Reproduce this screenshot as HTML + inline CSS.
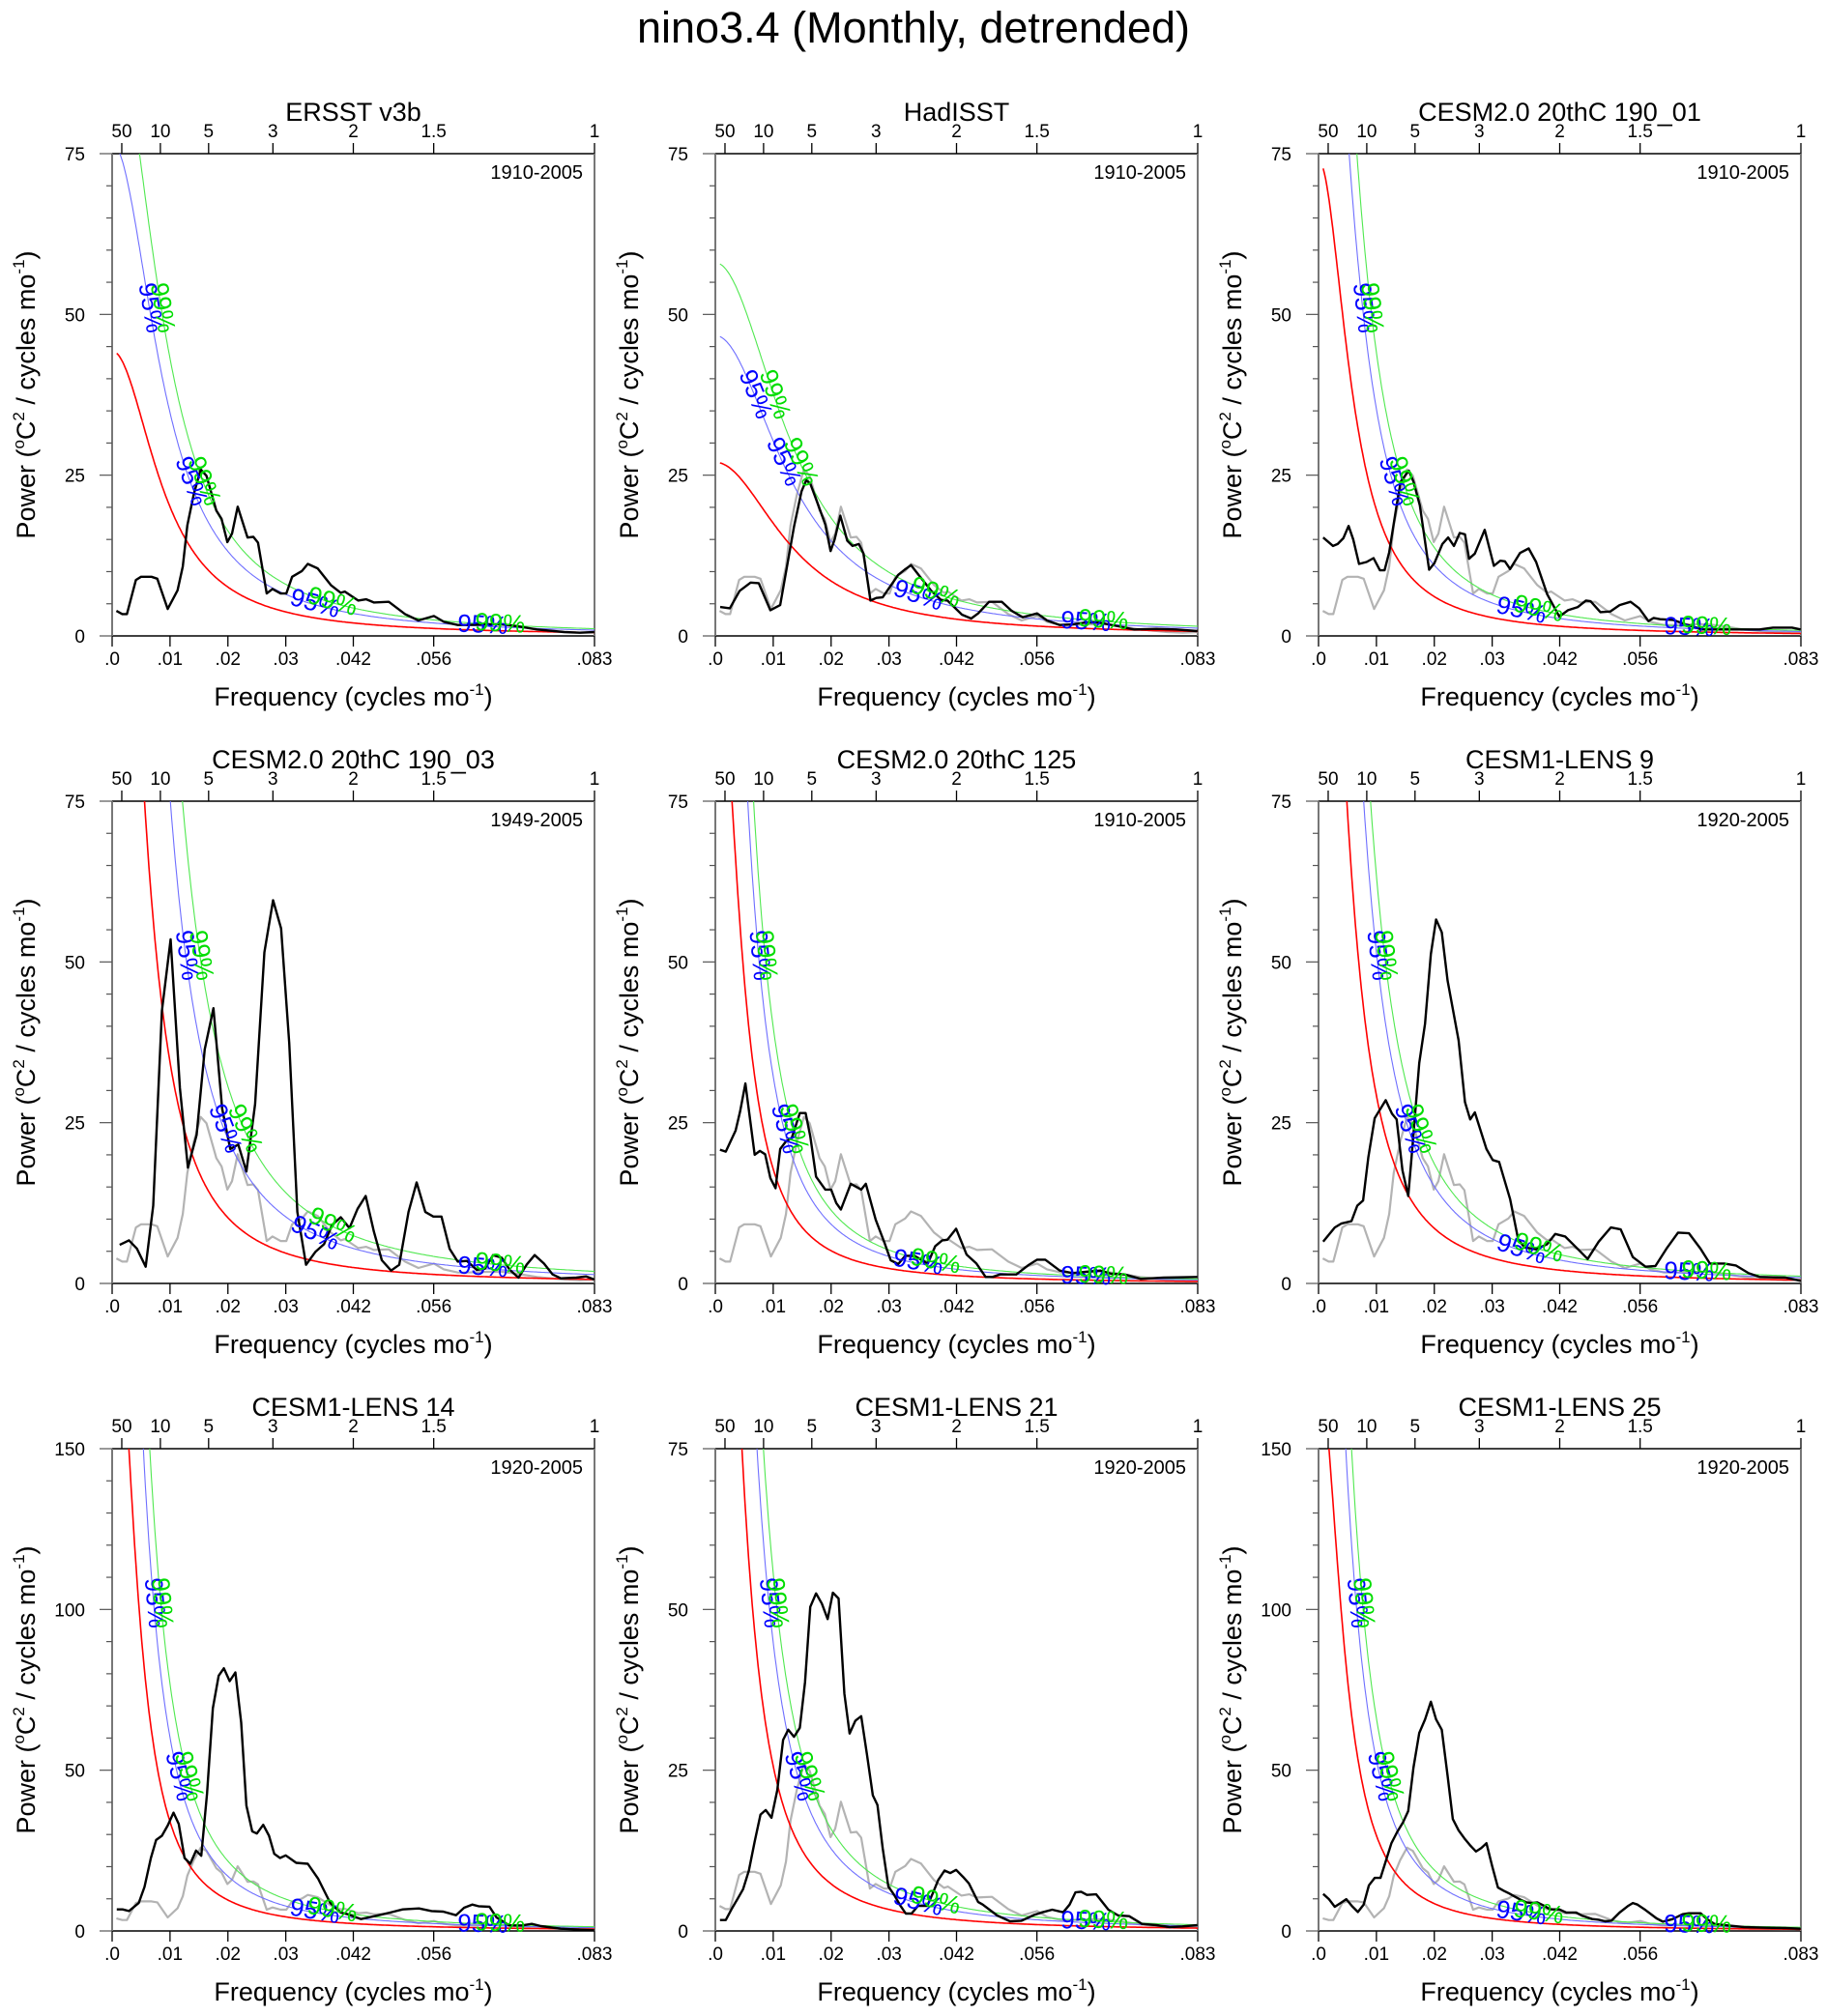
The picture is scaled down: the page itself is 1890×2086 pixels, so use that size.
<!DOCTYPE html>
<html><head><meta charset="utf-8"><title>nino3.4 spectra</title>
<style>
html,body{margin:0;padding:0;background:#fff;}
svg{display:block;font-family:"Liberation Sans",Arial,sans-serif;}
</style></head>
<body>
<svg id="chart" xmlns="http://www.w3.org/2000/svg" width="1890" height="2086" viewBox="0 0 1890 2086">
<rect x="0" y="0" width="1890" height="2086" fill="#fff"/>
<text x="945" y="44" font-size="45" text-anchor="middle" fill="#000">nino3.4 (Monthly, detrended)</text>
</svg>
<script>
// ---------- data ----------
const panelTitles = ["ERSST v3b","HadISST","CESM2.0 20thC 190_01","CESM2.0 20thC 190_03","CESM2.0 20thC 125","CESM1-LENS 9","CESM1-LENS 14","CESM1-LENS 21","CESM1-LENS 25"];
const panelYears = ["1910-2005","1910-2005","1910-2005","1949-2005","1910-2005","1920-2005","1920-2005","1920-2005","1920-2005"];
const yMax = [75,75,75,75,75,75,150,75,150];
const redPeak = [44.3,27,74,162.6,106,148,218.6,155,173.6];
const redFc = [0.0091,0.0136,0.006,0.00518,0.00449,0.00496,0.00429,0.00445,0.00454];
const ci95Ratio = [1.73,1.73,1.8,2.2,1.81,1.76,1.77,1.75,1.79];
const ci99Ratio = [2.15,2.15,2.25,3.0,2.24,2.17,2.26,2.17,2.23];
const topPeriods = [50,10,5,3,2,1.5,1];
const topPeriodLabels = ["50","10","5","3","2","1.5","1"];
const bottomTickFreqs = [0,0.01,0.02,0.03,1/24,1/18,1/12];
const bottomTickLabels = [".0",".01",".02",".03",".042",".056",".083"];

const obsFreq = [.00074,.00175,.00255,.0041,.005,.0068,.0078,.0096,.0113,.0122,.013,.0141,.0153,.0163,.018,.0189,.0199,.0207,.0217,.0234,.0244,.0252,.0267,.0277,.0291,.0301,.0311,.0328,.0338,.0355,.0378,.0395,.0402,.0425,.0439,.0452,.0478,.0506,.0529,.0556,.0573,.0597,.0613,.0647,.0674,.07,.0734,.0781,.0808,.0833];
const obsPower = [3.9,3.4,3.4,8.7,9.2,9.2,8.9,4.2,7.1,10.8,17.2,22.0,25.9,24.9,19.5,18.2,14.6,15.9,20.1,15.3,15.4,14.5,6.6,7.3,6.6,6.6,9.2,10.1,11.2,10.5,7.9,6.7,6.9,5.5,5.7,5.2,5.3,3.4,2.4,3.1,2.2,1.7,1.7,1.8,1.8,1.5,1.0,0.6,0.5,0.6];

const had_f = [.00083,.0025,.0042,.0061,.0075,.0095,.0112,.0136,.0149,.0157,.0164,.0178,.019,.0199,.0206,.0216,.0228,.0237,.0248,.0256,.0268,.0278,.0289,.0303,.0316,.0327,.0338,.0351,.0373,.039,.0401,.0426,.0442,.0454,.0473,.0495,.0512,.0531,.0556,.0573,.0595,.0618,.064,.0662,.0696,.0723,.0762,.0796,.0833];
const had_p = [4.5,4.3,7.0,8.3,8.2,4.0,4.8,17.0,22.5,24.2,23.7,20.3,17.3,13.2,15.0,18.7,14.8,14.0,14.3,12.8,5.5,5.9,6.0,7.8,9.5,10.3,11.0,9.5,7.0,5.6,5.5,3.3,2.7,3.5,5.3,5.3,3.9,2.9,3.5,2.4,1.7,1.8,2.1,2.1,1.5,1.0,1.1,1.0,0.75];

const m01_f = [.0008,.0025,.0033,.0043,.0052,.006,.007,.0083,.0095,.0106,.0114,.0122,.0135,.0142,.0156,.0164,.0175,.0191,.02,.0214,.0224,.0234,.0244,.0253,.026,.027,.0287,.0303,.0314,.0322,.0331,.0348,.0363,.0376,.0395,.0416,.0431,.0448,.0462,.047,.0487,.0504,.052,.0539,.0554,.057,.0579,.059,.0612,.0634,.0662,.0707,.0762,.0785,.0818,.0833];
const m01_p = [15.3,14.0,14.3,15.2,17.1,15.0,11.2,11.5,12.1,10.2,10.2,13.0,20.3,24.0,25.7,24.0,20.3,10.3,11.3,14.3,15.3,14.0,16.0,15.8,12.0,12.8,16.5,10.9,11.7,11.6,10.4,12.9,13.6,11.5,6.5,3.0,4.0,4.5,5.5,5.4,3.7,3.8,4.8,5.3,4.3,2.3,2.8,2.6,2.5,1.8,1.0,1.0,1.0,1.3,1.3,1.0];

const m03_f = [.0013,.0029,.0043,.0058,.0071,.0086,.0101,.0117,.0131,.0146,.016,.0175,.019,.0204,.0218,.0232,.0247,.0263,.0278,.0292,.0306,.032,.0335,.0351,.0366,.038,.0395,.041,.0424,.0438,.0452,.0466,.0482,.0496,.0512,.0526,.0541,.0555,.0569,.0583,.0597,.0613,.063,.0644,.0658,.0673,.0687,.0702,.0716,.073,.0746,.0761,.0775,.0802,.0819,.0833];
const m03_p = [6.0,6.7,5.4,2.6,12.1,42.4,53.5,30.4,18.0,23.1,36.4,42.8,27.2,20.9,21.6,17.4,27.9,51.5,59.6,55.2,37.4,11.1,2.9,4.9,6.1,9.1,10.3,8.6,11.6,13.6,8.1,3.6,2.0,2.9,11.1,15.7,11.1,10.4,10.4,5.4,3.4,3.5,2.1,2.3,4.4,4.0,2.1,0.9,2.9,4.4,3.1,1.4,0.8,0.9,1.1,0.6];

const m125_f = [.0008,.0018,.0035,.0043,.0052,.0068,.0077,.0086,.0095,.0104,.0112,.0122,.0132,.0146,.0156,.0164,.0174,.019,.02,.0209,.0217,.0234,.0252,.026,.0277,.0292,.0303,.0316,.0328,.0344,.0367,.038,.0392,.0401,.0416,.0434,.0451,.0467,.0479,.0492,.052,.054,.0556,.057,.0595,.0618,.064,.0665,.0684,.0707,.0735,.0774,.0833];
const m125_p = [20.8,20.5,23.8,26.8,31.1,20.0,20.6,20.1,16.4,14.8,20.9,22.1,22.6,26.5,26.5,22.9,16.6,14.6,14.6,12.5,11.5,15.5,14.6,15.5,9.9,6.4,3.6,3.0,4.3,4.3,3.1,5.8,6.7,6.8,8.5,4.5,3.1,1.0,1.0,1.4,1.4,2.8,3.7,3.7,2.0,1.6,1.8,2.0,1.5,1.4,0.7,0.9,1.0];

const l9_f = [.0008,.0028,.0039,.0057,.0067,.0077,.0086,.0097,.0116,.0127,.0135,.0145,.0155,.0161,.0174,.0184,.0194,.0203,.0213,.0223,.0242,.0253,.0262,.027,.029,.0301,.0312,.0331,.0345,.0356,.0376,.0395,.0409,.0426,.0445,.0465,.0484,.0505,.0522,.0543,.0565,.0582,.0601,.0621,.064,.066,.0676,.0701,.0721,.0743,.0762,.0807,.0833];
const l9_p = [6.5,8.7,9.3,9.7,12.1,12.9,19.6,25.7,28.5,26.4,25.5,17.6,13.6,19.9,34.3,40.4,51.2,56.6,54.6,47.1,37.8,28.2,25.5,26.6,20.9,19.2,18.9,13.1,6.8,5.6,5.3,6.1,7.7,7.3,5.6,3.8,6.5,8.7,8.4,4.1,2.6,2.7,5.4,7.9,7.8,5.4,3.1,3.1,2.8,1.6,1.0,0.9,0.4];

const l14_f = [.0008,.0018,.0029,.0046,.0056,.0067,.0076,.0086,.0096,.0106,.0115,.0125,.0135,.0145,.0154,.0164,.0174,.0184,.0193,.0203,.0213,.0223,.0232,.0242,.025,.0261,.0271,.028,.029,.03,.0318,.0338,.0356,.0377,.0395,.0407,.043,.0455,.048,.0502,.053,.0552,.0572,.0594,.0608,.0622,.0633,.0652,.0664,.0686,.0708,.0725,.0741,.0775,.0833];
const l14_p = [6.7,6.7,6.2,8.7,13.7,22.7,28.3,29.6,32.8,36.8,33.3,22.7,20.9,25.0,23.4,42.8,69.3,79.4,81.7,77.7,80.4,64.8,39.0,31.0,30.3,33.0,29.6,24.0,22.7,23.5,21.2,20.9,16.2,8.7,5.7,5.2,3.7,4.7,5.7,6.7,7.0,6.2,6.0,4.9,7.2,8.2,7.7,7.5,4.2,1.7,1.7,2.2,1.5,0.7,0.2];

const l21_f = [.0008,.0018,.0028,.0039,.0048,.0058,.0068,.0078,.0087,.0097,.0107,.0117,.0126,.0136,.0146,.0155,.0164,.0174,.0184,.0194,.0203,.0213,.0223,.0232,.0242,.0252,.0262,.0272,.028,.0289,.0299,.0309,.032,.0329,.0339,.035,.0366,.0376,.0385,.0396,.0406,.0416,.0428,.0438,.0454,.0462,.0487,.0509,.0529,.0551,.0565,.0582,.0601,.0612,.0622,.0632,.0642,.0658,.0679,.0696,.0715,.0737,.0762,.0785,.0807,.0833];
const l21_p = [1.7,1.7,3.4,5.1,6.5,9.4,13.9,18.1,18.8,17.6,21.9,29.7,31.3,30.2,31.6,38.7,50.4,52.5,50.9,48.5,52.6,51.7,36.9,30.7,32.7,33.4,27.4,21.1,19.6,12.9,6.9,5.6,3.9,2.7,2.7,3.9,3.9,5.9,7.9,9.4,9.0,9.5,8.4,7.4,4.5,4.1,2.4,1.5,1.6,2.5,2.9,3.3,2.9,4.1,6.0,6.1,5.6,5.7,3.3,2.4,2.3,1.1,0.9,0.6,0.7,0.9];

const l25_f = [.0008,.0018,.0028,.0038,.0048,.0058,.0068,.0078,.0087,.0097,.0107,.0117,.0126,.0136,.0146,.0155,.0164,.0174,.0184,.0194,.0203,.0213,.0223,.0232,.0242,.0252,.0262,.0272,.0281,.029,.03,.031,.032,.0329,.0339,.0349,.0359,.0369,.0378,.0389,.04,.0416,.0428,.0445,.0456,.0473,.0484,.0495,.0506,.052,.0534,.0543,.0551,.0565,.0584,.0595,.0612,.0629,.064,.066,.0671,.0684,.0707,.0735,.0774,.0807,.0833];
const l25_p = [11.5,9.9,7.5,8.7,9.9,7.7,5.9,8.2,14.2,16.5,16.5,22.2,27.3,30.8,33.8,37.3,50.8,61.6,65.8,71.3,65.8,62.6,48.3,34.8,31.3,28.8,26.6,24.7,25.8,27.3,20.2,13.5,12.5,11.7,10.7,9.7,8.9,8.7,8.9,7.9,6.7,6.7,5.7,5.7,4.7,3.7,3.5,3.0,3.2,5.7,7.7,8.7,8.2,6.5,3.9,2.9,3.7,5.2,5.5,5.5,3.7,2.2,1.7,1.2,1.0,0.9,0.7];

const seriesFreq = [obsFreq,had_f,m01_f,m03_f,m125_f,l9_f,l14_f,l21_f,l25_f];
const seriesPower = [obsPower,had_p,m01_p,m03_p,m125_p,l9_p,l14_p,l21_p,l25_p];

// ---------- layout ----------
const svg = document.getElementById('chart');
const NS = 'http://www.w3.org/2000/svg';
const colX = [116,740,1364], rowY = [159,829,1499];
const PW = 499, PH = 499, FMAX = 1/12;

function mk(tag, attrs, parent){
  const e = document.createElementNS(NS, tag);
  for (const k in attrs) e.setAttribute(k, attrs[k]);
  (parent||svg).appendChild(e);
  return e;
}
function redNoise(i,f){ return redPeak[i]/(1+(f/redFc[i])*(f/redFc[i])); }

for (let i=0;i<9;i++){
  const x0 = colX[i%3], y0 = rowY[Math.floor(i/3)], ym = yMax[i];
  const xs = f => x0 + f/FMAX*PW;
  const ys = v => y0 + PH - v/ym*PH;
  const g = mk('g',{});
  
  

  const clipId = 'clip'+i;
  const cp = mk('clipPath',{id:clipId},g);
  mk('rect',{x:x0,y:y0,width:PW,height:PH},cp);

  const t = mk('text',{x:x0+PW/2,y:y0-34,'font-size':27,'text-anchor':'middle',fill:'#000'},g);
  t.textContent = panelTitles[i];
  
  

  const yl = mk('text',{x:x0+PW-12,y:y0+26,'font-size':20,'text-anchor':'end',fill:'#000'},g);
  yl.textContent = panelYears[i];
  
  

  mk('line',{x1:x0,y1:y0,x2:x0+PW,y2:y0,stroke:'#000','stroke-width':1.5},g);
  mk('line',{x1:x0,y1:y0+PH,x2:x0+PW,y2:y0+PH,stroke:'#000','stroke-width':1.5},g);
  mk('line',{x1:x0,y1:y0,x2:x0,y2:y0+PH,stroke:'#777','stroke-width':2},g);
  mk('line',{x1:x0+PW,y1:y0,x2:x0+PW,y2:y0+PH,stroke:'#777','stroke-width':2},g);

  for (let k=0;k<topPeriods.length;k++){
    const x = xs(1/(12*topPeriods[k]));
    mk('line',{x1:x,y1:y0,x2:x,y2:y0-11,stroke:'#000','stroke-width':1.3},g);
    const tl = mk('text',{x:x,y:y0-17,'font-size':19,'text-anchor':'middle',fill:'#000'},g);
    tl.textContent = topPeriodLabels[k];
    
    
  }
  for (let k=0;k<bottomTickFreqs.length;k++){
    const x = xs(bottomTickFreqs[k]);
    mk('line',{x1:x,y1:y0+PH,x2:x,y2:y0+PH+11,stroke:'#000','stroke-width':1.3},g);
    const bl = mk('text',{x:x,y:y0+PH+30,'font-size':19,'text-anchor':'middle',fill:'#000'},g);
    bl.textContent = bottomTickLabels[k];
    
    
  }
  for (let k=0;k<=15;k++){
    const v = ym*k/15, y = ys(v), major = (k%5===0);
    mk('line',{x1:x0,y1:y,x2:x0-(major?13:6),y2:y,stroke:'#555','stroke-width':1.2},g);
    if (major){
      const yt = mk('text',{x:x0-28,y:y+7,'font-size':19,'text-anchor':'end',fill:'#000'},g);
      yt.textContent = String(Math.round(v));
      
      
    }
  }
  const xt = mk('text',{x:x0+PW/2,y:y0+PH+72,'font-size':27,'text-anchor':'middle',fill:'#000'},g);
  xt.innerHTML = 'Frequency (cycles mo<tspan font-size="17" dy="-11">-1</tspan><tspan dy="11">)</tspan>';
  
  
  const cy = y0+PH/2, cx = x0-80;
  const ytt = mk('text',{x:cx,y:cy,'font-size':27,'text-anchor':'middle',fill:'#000',transform:'rotate(-90 '+cx+' '+cy+')'},g);
  ytt.innerHTML = 'Power (<tspan font-size="17" dy="-11">o</tspan><tspan dy="11">C</tspan><tspan font-size="17" dy="-11">2</tspan><tspan dy="11"> / cycles mo</tspan><tspan font-size="17" dy="-11">-1</tspan><tspan dy="11">)</tspan>';
  
  

  const pg = mk('g',{'clip-path':'url(#'+clipId+')'},g);

  if (i>0){
    let d='';
    for (let k=0;k<obsFreq.length;k++) d += (k?'L':'M')+xs(obsFreq[k]).toFixed(1)+','+ys(obsPower[k]).toFixed(1);
    const gp = mk('path',{d:d,fill:'none',stroke:'#b3b3b3','stroke-width':2.2,'stroke-linejoin':'round'},pg);
    
    
  }

  const curveDefs = [[1,'#ff0000','red-noise-curve'],[ci95Ratio[i],'#6f6fff','ci95-curve'],[ci99Ratio[i],'#50e850','ci99-curve']];
  for (const [ratio,col,nm] of curveDefs){
    let d='';
    for (let k=0;k<=400;k++){
      const f = 0.0008 + (FMAX-0.0008)*k/400;
      let v = redNoise(i,f)*ratio; if (v>ym*1.3) v = ym*1.3;
      d += (k?'L':'M')+xs(f).toFixed(1)+','+ys(v).toFixed(1);
    }
    const cp2 = mk('path',{d:d,fill:'none',stroke:col,'stroke-width':nm==='red-noise-curve'?1.6:1.1},pg);
    
    
  }

  {
    const F = seriesFreq[i], P = seriesPower[i];
    let d='';
    for (let k=0;k<F.length;k++) d += (k?'L':'M')+xs(F[k]).toFixed(1)+','+ys(P[k]).toFixed(1);
    const bp = mk('path',{d:d,fill:'none',stroke:'#000','stroke-width':2.4,'stroke-linejoin':'round'},pg);
    
    
  }

  const labelDefs = [[ci95Ratio[i],'#0000ff','95%'],[ci99Ratio[i],'#00dd00','99%']];
  for (const [ratio,col,txt] of labelDefs){
    const curve = f => redNoise(i,f)*ratio;
    const spots = [];
    const low = redNoise(i,0.0008)*ci95Ratio[i] < ym*0.8;
    const fracs = low ? [0.5,0.36] : [0.68,0.32];
    for (const frac of fracs){
      const target = ym*frac;
      if (curve(0.0008) <= target) continue;
      let lo=0.0008, hi=FMAX;
      for (let it=0;it<50;it++){ const m=(lo+hi)/2; if (curve(m)>target) lo=m; else hi=m; }
      spots.push(lo);
    }
    if (spots.length<2) spots.push(0.022);
    spots.push(txt==='95%'?0.035:0.038);
    spots.push(txt==='95%'?0.064:0.067);
    for (const f of spots){
      const x = xs(f), y = ys(curve(f));
      const dx = xs(f+0.0005)-x, dy = ys(curve(f+0.0005))-y;
      const ang = Math.atan2(dy,dx)*180/Math.PI;
      const lt = mk('text',{x:x,y:y,'font-size':26,'text-anchor':'middle','dominant-baseline':'middle',fill:col,transform:'rotate('+ang.toFixed(1)+' '+x.toFixed(1)+' '+y.toFixed(1)+')'},g);
      lt.textContent = txt;
      
      
    }
  }
}
</script>
</body></html>
